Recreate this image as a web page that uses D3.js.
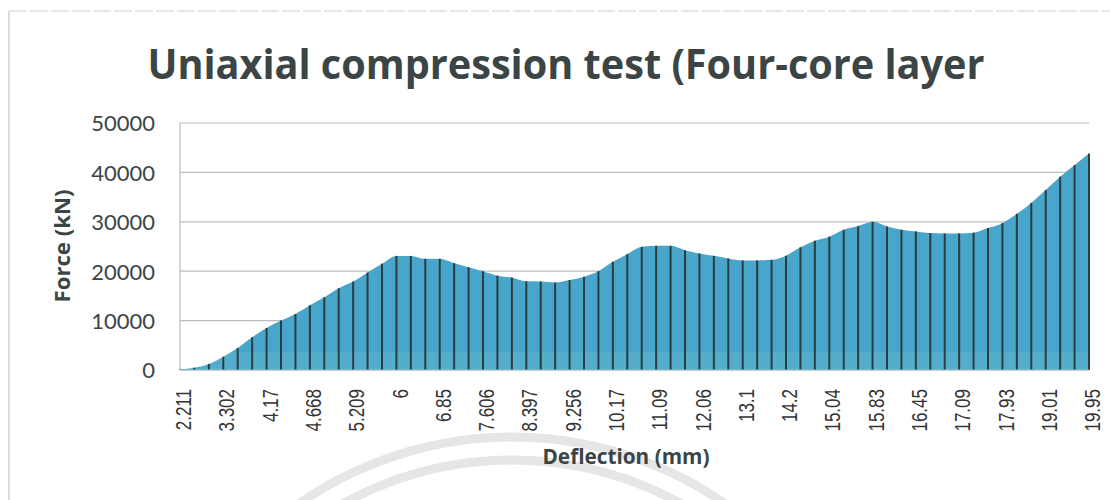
<!DOCTYPE html>
<html>
<head>
<meta charset="utf-8">
<script src="https://cdn.jsdelivr.net/npm/d3@7"></script>
<style>
  html, body { margin: 0; padding: 0; background: #ffffff; }
  svg { display: block; }
</style>
</head>
<body>
<svg id="chart" width="1110" height="500"></svg>
<script>
// Force readings (kN) at each recorded deflection step
const force = [
  150, 470, 1220, 2700, 4460, 6620, 8500, 10000, 11350, 13100,
  14730, 16550, 17900, 19730, 21490, 23100, 23100, 22500, 22500, 21620,
  20800, 20000, 19100, 18700, 17950, 17900, 17700, 18200, 18900, 20000,
  21900, 23450, 24930, 25130, 25130, 24260, 23580, 23110, 22570, 22170,
  22170, 22300, 23150, 24830, 26170, 26980, 28390, 29130, 30000, 29060,
  28390, 28050, 27720, 27650, 27650, 27790, 28720, 29730, 31610, 33830,
  36440, 39130, 41480, 43830
];

// Deflection (mm) shown on every third step
const tickLabels = [
  "2.211", "3.302", "4.17", "4.668", "5.209", "6", "6.85", "7.606",
  "8.397", "9.256", "10.17", "11.09", "12.06", "13.1", "14.2", "15.04",
  "15.83", "16.45", "17.09", "17.93", "19.01", "19.95"
];
const labelEvery = 3;

const yTicks = [0, 10000, 20000, 30000, 40000, 50000];

const titleText = "Uniaxial compression test (Four-core layer";
const xTitle = "Deflection (mm)";
const yTitle = "Force (kN)";

const svg = d3.select("#chart");
const textColor = "#3b4545";

// faint circular stamp behind the lower part of the page
const stamp = svg.append("g").attr("fill", "none").attr("stroke", "#e6e6e6").attr("stroke-width", 9);
stamp.append("circle").attr("cx", 512).attr("cy", 810).attr("r", 373);
stamp.append("circle").attr("cx", 512).attr("cy", 810).attr("r", 350);

// chart frame edges
svg.append("line").attr("x1", 9).attr("x2", 9).attr("y1", 11).attr("y2", 500)
  .attr("stroke", "#c4c4c4").attr("stroke-width", 1.2);
svg.append("line").attr("x1", 9).attr("x2", 1110).attr("y1", 11).attr("y2", 11)
  .attr("stroke", "#cfcfcf").attr("stroke-width", 1.2).attr("stroke-dasharray", "18 3");

const plot = { left: 180, right: 1089, top: 123, bottom: 370 };

const x = d3.scalePoint()
  .domain(d3.range(force.length))
  .range([plot.left, plot.right]);

const y = d3.scaleLinear()
  .domain([0, 50000])
  .range([plot.bottom, plot.top]);

// horizontal gridlines
svg.append("g")
  .selectAll("line")
  .data(yTicks)
  .join("line")
  .attr("x1", plot.left).attr("x2", plot.right)
  .attr("y1", d => y(d)).attr("y2", d => y(d))
  .attr("stroke", "#bdbdbd").attr("stroke-width", 1.2);

// filled force curve
const area = d3.area()
  .x((d, i) => x(i))
  .y0(y(0))
  .y1(d => y(d))
  .curve(d3.curveMonotoneX);

svg.append("path")
  .datum(force)
  .attr("d", area)
  .attr("fill", "#47a6c9");

// slightly paler band along the base
svg.append("path")
  .datum(force)
  .attr("d", d3.area().x((d, i) => x(i)).y0(y(0)).y1(y(0) - 18).curve(d3.curveMonotoneX))
  .attr("fill", "#ffffff").attr("opacity", 0.08);

// drop lines from each reading to the axis
svg.append("g")
  .selectAll("line")
  .data(force)
  .join("line")
  .attr("x1", (d, i) => x(i)).attr("x2", (d, i) => x(i))
  .attr("y1", d => y(d)).attr("y2", y(0))
  .attr("stroke", "#2c3d42").attr("stroke-width", 2);

// axis lines
svg.append("line").attr("x1", plot.left).attr("x2", plot.left)
  .attr("y1", plot.top).attr("y2", plot.bottom)
  .attr("stroke", "#b8b8b8").attr("stroke-width", 1.2);
svg.append("line").attr("x1", plot.left).attr("x2", plot.right)
  .attr("y1", plot.bottom).attr("y2", plot.bottom)
  .attr("stroke", "#9fc3cf").attr("stroke-width", 1.2);

// y axis
const yAxis = d3.axisLeft(y).tickValues(yTicks).tickFormat(d3.format("d")).tickSize(0).tickPadding(0);
const yg = svg.append("g").attr("transform", `translate(155,0)`).call(yAxis);
yg.select(".domain").remove();
yg.selectAll("text")
  .attr("font-family", "Lato, 'Open Sans', sans-serif")
  .attr("font-size", 22)
  .attr("fill", textColor)
  .attr("dy", "0.36em");

// x axis labels, rotated
const xAxis = d3.axisBottom(x)
  .tickValues(d3.range(0, force.length, labelEvery))
  .tickFormat(i => tickLabels[i / labelEvery])
  .tickSize(0);
const xg = svg.append("g").attr("transform", `translate(0,${plot.bottom})`).call(xAxis);
xg.select(".domain").remove();
xg.selectAll(".tick text")
  .attr("font-family", "'Liberation Sans', Arial, sans-serif")
  .attr("font-size", 17)
  .attr("fill", "#333333")
  .attr("text-anchor", "end")
  .attr("x", 0).attr("y", 0)
  .attr("dy", "0.36em")
  .attr("transform", "translate(3,19) rotate(-90) scale(1,1.25)");

// titles
svg.append("text")
  .attr("x", 566).attr("y", 79)
  .attr("text-anchor", "middle")
  .attr("font-family", "'Open Sans', sans-serif")
  .attr("font-weight", 700)
  .attr("font-size", 41)
  .attr("fill", textColor)
  .attr("textLength", 837)
  .attr("lengthAdjust", "spacingAndGlyphs")
  .text(titleText);

svg.append("text")
  .attr("x", 626).attr("y", 464)
  .attr("text-anchor", "middle")
  .attr("font-family", "'Open Sans', sans-serif")
  .attr("font-weight", 700)
  .attr("font-size", 21)
  .attr("fill", textColor)
  .attr("textLength", 167)
  .attr("lengthAdjust", "spacingAndGlyphs")
  .text(xTitle);

svg.append("text")
  .attr("transform", "translate(70,246) rotate(-90)")
  .attr("text-anchor", "middle")
  .attr("font-family", "'Open Sans', sans-serif")
  .attr("font-weight", 700)
  .attr("font-size", 21)
  .attr("fill", textColor)
  .attr("textLength", 113)
  .attr("lengthAdjust", "spacingAndGlyphs")
  .text(yTitle);
</script>
</body>
</html>
